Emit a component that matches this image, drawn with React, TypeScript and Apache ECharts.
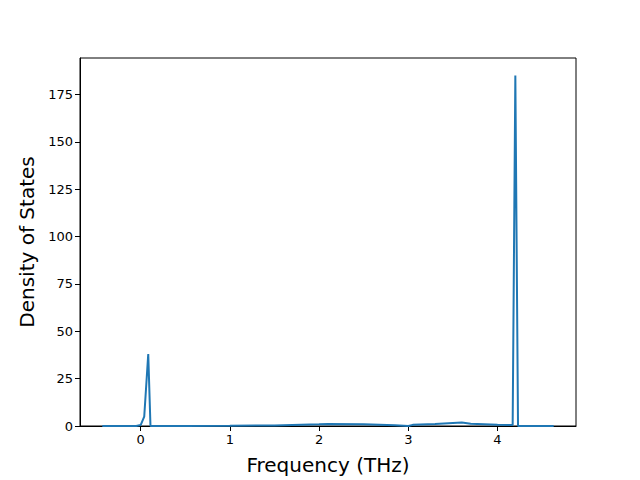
import React, { useEffect, useRef } from "react";
import * as echarts from "echarts";

const freqs = [-0.43, -0.05, 0.0, 0.04, 0.085, 0.11, 0.5, 1.0, 1.5, 2.0, 2.1, 2.5, 2.85, 3.0, 3.05, 3.3, 3.6, 3.7, 4.0, 4.17, 4.2, 4.23, 4.63];
const dos = [0, 0, 0.5, 5, 38, 0, 0, 0.1, 0.3, 0.9, 1.1, 0.9, 0.4, 0, 0.6, 1.0, 1.8, 1.2, 0.6, 0.5, 185, 0, 0];
const xTicks = [0, 1, 2, 3, 4];
const yTicks = [0, 25, 50, 75, 100, 125, 150, 175];

export default function App() {
  const ref = useRef<HTMLDivElement>(null);
  useEffect(() => {
    if (!ref.current) return;
    const chart = echarts.init(ref.current, null, { renderer: "svg" });
    const font = "DejaVu Sans";
    chart.setOption({
      animation: false,
      textStyle: { fontFamily: font },
      grid: { left: 80, right: 64, top: 58, bottom: 53, show: true, borderColor: "#000", borderWidth: 1, backgroundColor: "transparent" },
      xAxis: {
        type: "value",
        min: -0.68,
        max: 4.88,
        name: "Frequency (THz)",
        nameLocation: "middle",
        nameGap: 29,
        nameTextStyle: { fontSize: 20, color: "#000", fontFamily: font },
        axisLine: { show: true, onZero: false, lineStyle: { color: "#000", width: 1 } },
        axisTick: { show: true, inside: false, length: 5, lineStyle: { color: "#000" }, customValues: xTicks },
        axisLabel: { color: "#000", fontSize: 13, margin: 7, fontFamily: font, customValues: xTicks, formatter: (v: number) => String(v) },
        splitLine: { show: false },
      },
      yAxis: {
        type: "value",
        min: 0,
        max: 194.2,
        name: "Density of States",
        nameLocation: "middle",
        nameGap: 43,
        nameRotate: 90,
        nameTextStyle: { fontSize: 20, color: "#000", fontFamily: font },
        axisLine: { show: true, onZero: false, lineStyle: { color: "#000", width: 1 } },
        axisTick: { show: true, inside: false, length: 5, lineStyle: { color: "#000" }, customValues: yTicks },
        axisLabel: { color: "#000", fontSize: 13, margin: 7, fontFamily: font, customValues: yTicks, formatter: (v: number) => String(v) },
        splitLine: { show: false },
      },
      series: [
        {
          type: "line",
          data: freqs.map((f, i) => [f, dos[i]]),
          showSymbol: false,
          lineStyle: { color: "#1f77b4", width: 2 },
          itemStyle: { color: "#1f77b4" },
        },
      ],
    });
    return () => chart.dispose();
  }, []);
  return <div ref={ref} style={{ width: 640, height: 480, position: "absolute", left: 0, top: 0 }} />;
}
